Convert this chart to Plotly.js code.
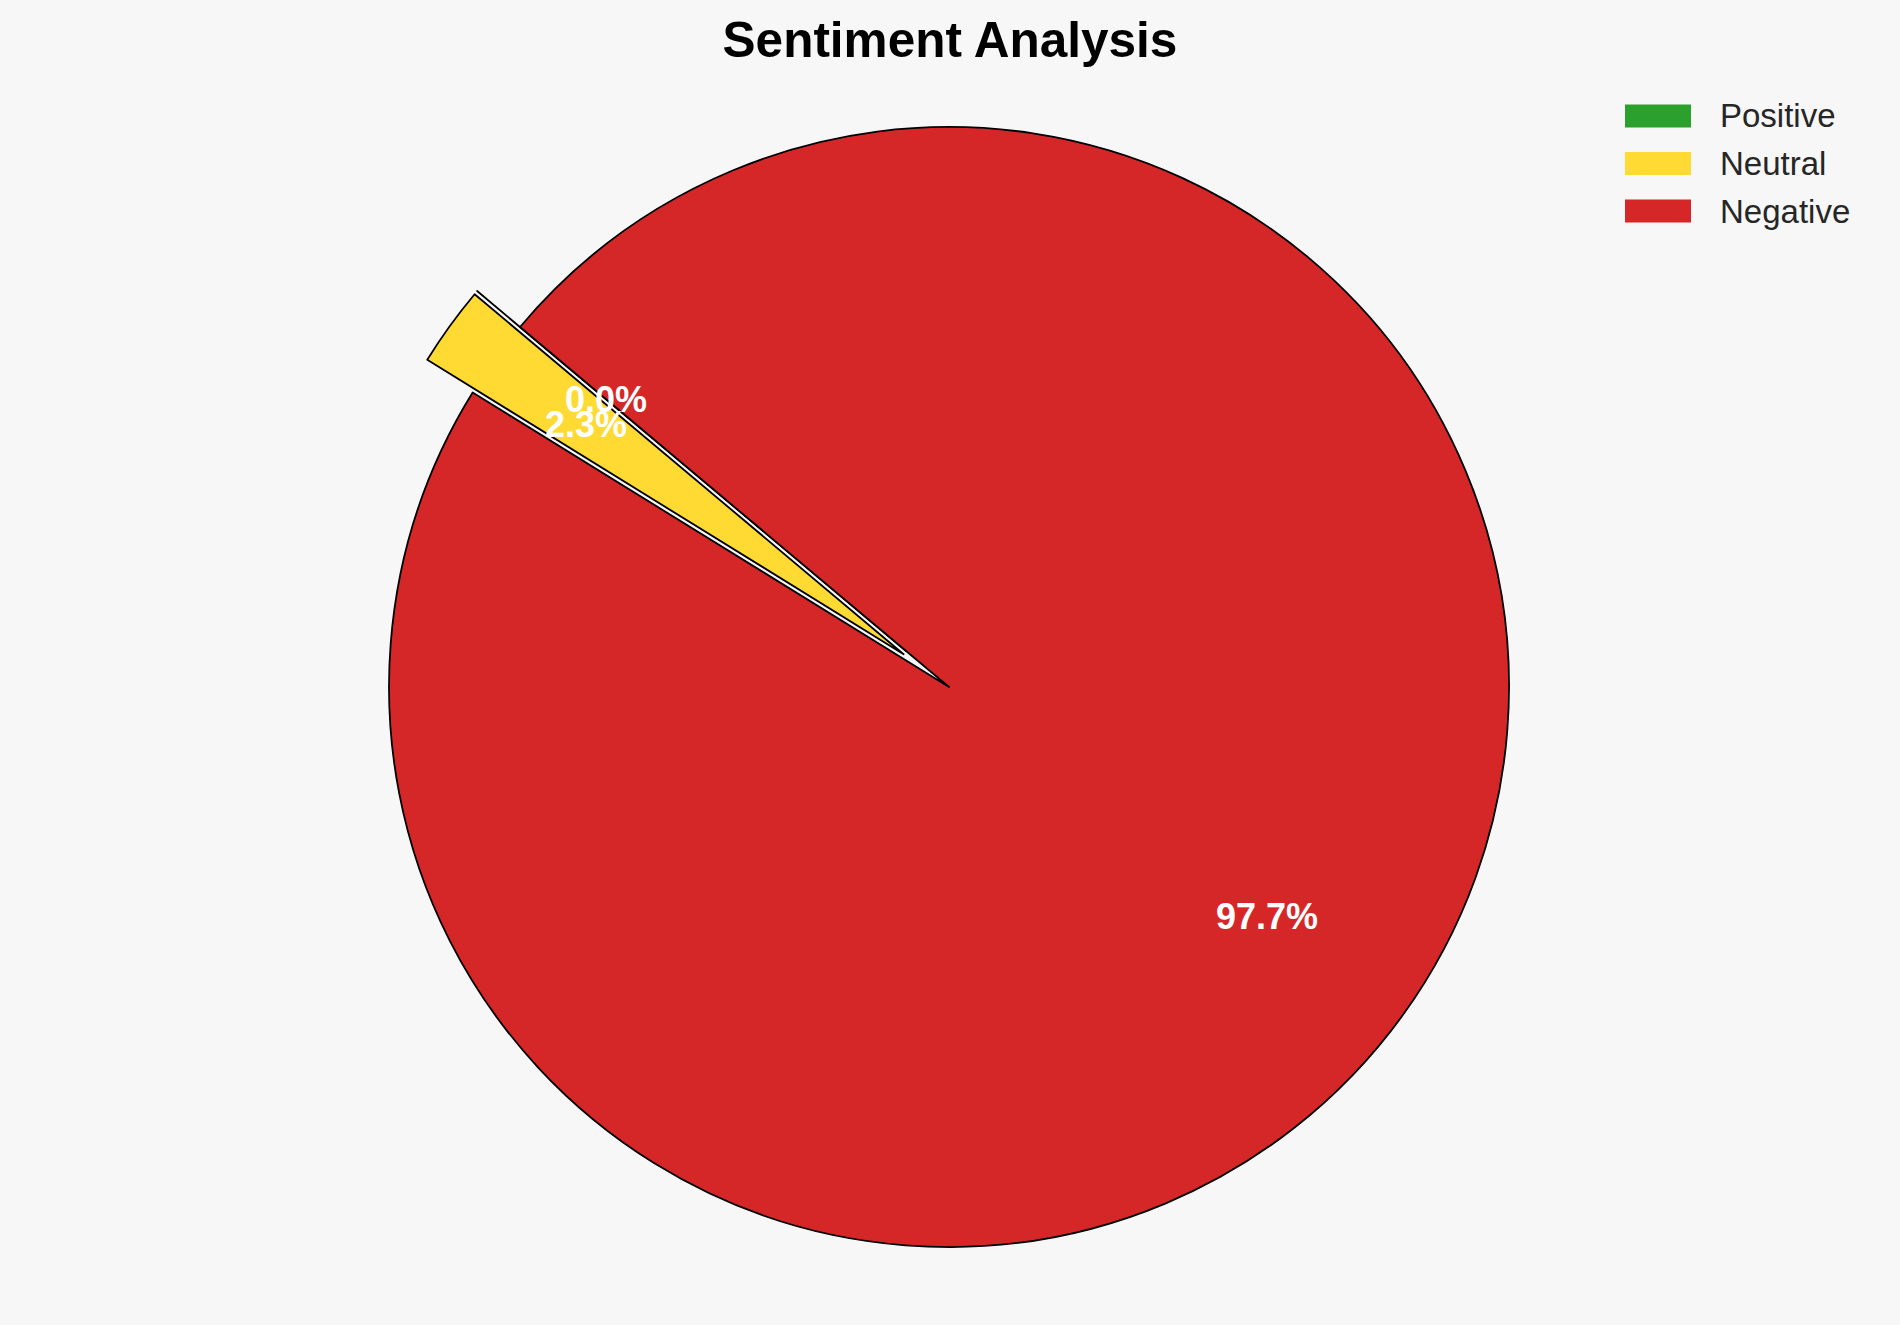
<!DOCTYPE html>
<html>
<head>
<meta charset="utf-8">
<script src="https://cdn.plot.ly/plotly-3.0.1.min.js"></script>
<style>html,body{margin:0;padding:0;background:#f7f7f7;}</style>
</head>
<body>
<div id="chart" style="width:1900px;height:1325px;"></div>
<script>
const categories = ['Positive', 'Neutral', 'Negative'];
const shares = [0.0, 2.3, 97.7];
const colors = ['#2ca02c', '#ffda33', '#d62728'];
const pulls = [0.1, 0.1, 0];
const startAngle = 140; // degrees, counterclockwise from 3 o'clock

const W = 1900, H = 1325;
const cxPx = 949, cyPx = 687, rPx = 560;
const maxPull = Math.max(...pulls);
const half = rPx * (1 + maxPull);
const FONT = 'Liberation Sans, Arial, sans-serif';

const total = shares.reduce((a, b) => a + b, 0);
const annotations = [];
const shapes = [];
let cum = 0;
shares.forEach((v, i) => {
  const mid = (startAngle + (cum + v / 2) / total * 360) * Math.PI / 180;
  cum += v;
  const d = (0.7 + pulls[i]) * rPx;
  annotations.push({
    x: (cxPx + d * Math.cos(mid)) / W,
    y: (H - cyPx + d * Math.sin(mid)) / H,
    xref: 'paper', yref: 'paper', showarrow: false,
    text: (v / total * 100).toFixed(1) + '%',
    font: {family: FONT, size: 36, color: '#ffffff', weight: 'bold'},
    xanchor: 'center', yanchor: 'middle'
  });
});

// legend (matplotlib style, large rectangular patches)
const legTop = 116, legStep = 47.5, patchX0 = 1625, patchX1 = 1691, patchH = 23, textX = 1718;
categories.forEach((c, i) => {
  const yc = legTop + i * legStep;
  shapes.push({
    type: 'rect', xref: 'paper', yref: 'paper',
    x0: patchX0 / W, x1: patchX1 / W,
    y0: (H - yc - patchH / 2) / H, y1: (H - yc + patchH / 2) / H,
    fillcolor: colors[i], line: {width: 0}
  });
  annotations.push({
    x: textX / W, y: (H - yc) / H, xref: 'paper', yref: 'paper', showarrow: false,
    text: c, xanchor: 'left', yanchor: 'middle',
    font: {family: FONT, size: 33, color: '#262626'}
  });
});

const trace = {
  type: 'pie',
  labels: categories,
  values: shares,
  sort: false,
  direction: 'counterclockwise',
  rotation: 90 - startAngle,
  pull: pulls,
  marker: {colors: colors, line: {color: '#000000', width: 1.8}},
  textinfo: 'none',
  hoverinfo: 'label+percent',
  showlegend: false,
  domain: {
    x: [(cxPx - half) / W, (cxPx + half) / W],
    y: [(H - cyPx - half) / H, (H - cyPx + half) / H]
  }
};

const layout = {
  width: W, height: H,
  margin: {l: 0, r: 0, t: 0, b: 0},
  paper_bgcolor: '#f7f7f7',
  plot_bgcolor: '#f7f7f7',
  title: {
    text: 'Sentiment Analysis',
    x: 0.5, xanchor: 'center', y: 1 - 40 / H, yanchor: 'middle',
    font: {family: FONT, size: 49.5, color: '#000000', weight: 'bold'}
  },
  showlegend: false,
  shapes: shapes,
  annotations: annotations
};

Plotly.newPlot('chart', [trace], layout, {displayModeBar: false, staticPlot: true});
</script>
</body>
</html>
